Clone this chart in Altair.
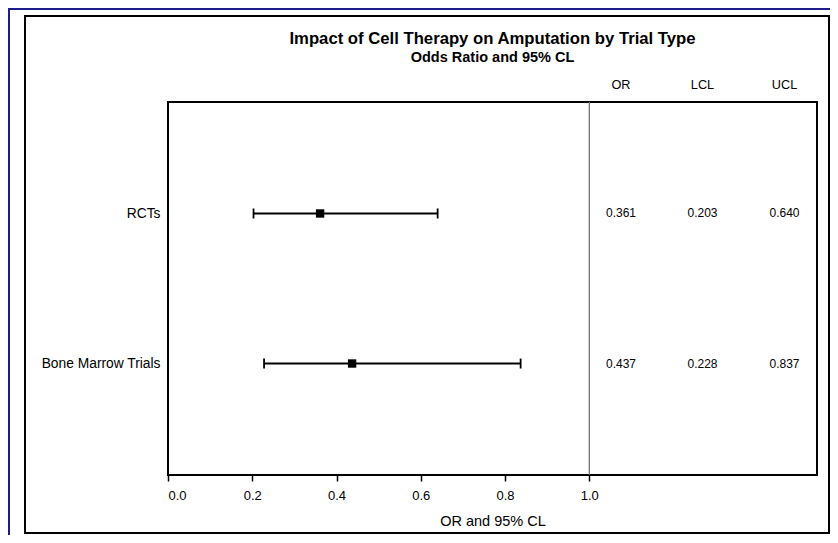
import altair as alt
import pandas as pd

# ---- data ----
labels = ["RCTs", "Bone Marrow Trials"]
odds = [0.361, 0.437]
lcl = [0.203, 0.228]
ucl = [0.640, 0.837]
tick_values = [0.0, 0.2, 0.4, 0.6, 0.8, 1.0]
ref_value = [1.0]
headers = ["OR", "LCL", "UCL"]
title_text = "Impact of Cell Therapy on Amputation by Trial Type"
subtitle_text = "Odds Ratio and 95% CL"
x_title = "OR and 95% CL"

df = pd.DataFrame({"trial": labels, "OR": odds, "LCL": lcl, "UCL": ucl})
ref_df = pd.DataFrame({"ref": ref_value})
one = pd.DataFrame({"k": [0]})

FONT = "Liberation Sans"
W, H = 649, 373
PX_PER_UNIT = 421.3
XMAX = W / PX_PER_UNIT

x_scale = alt.Scale(domain=[0, XMAX], nice=False, zero=False)
x_axis = alt.Axis(
    values=tick_values, format=".1f", title=x_title, grid=False, domain=False,
    ticks=True, tickSize=6, tickWidth=1.5, tickColor="black",
    labelFont=FONT, labelFontSize=13, labelColor="black", labelPadding=8,
    titleFont=FONT, titleFontSize=14.5, titleFontWeight="normal",
    titleColor="black", titlePadding=12,
)


def xe(field):
    return alt.X(field, scale=x_scale, axis=x_axis)


y_enc = alt.Y(
    "trial:N", sort=labels,
    scale=alt.Scale(type="point", padding=0.743, domain=labels),
    axis=alt.Axis(title=None, ticks=False, domain=False, grid=False,
                  labelFont=FONT, labelFontSize=13.8, labelColor="black",
                  labelPadding=8),
)

base = alt.Chart(df)

navy = alt.Chart(one).mark_rect(
    fillOpacity=0, stroke="#1c1c8a", strokeWidth=2
).encode(x=alt.value(-159), x2=alt.value(700), y=alt.value(-93), y2=alt.value(500))

frame = alt.Chart(one).mark_rect(
    fillOpacity=0, stroke="black", strokeWidth=2
).encode(x=alt.value(-143), x2=alt.value(661), y=alt.value(-86), y2=alt.value(431))

ref = alt.Chart(ref_df).mark_rule(color="#666666", strokeWidth=1.2).encode(x=xe("ref:Q"))

bars = base.mark_rule(color="black", strokeWidth=1.8).encode(
    x=xe("LCL:Q"), x2="UCL:Q", y=y_enc)
cap_l = base.mark_tick(color="black", thickness=1.8, size=10, opacity=1).encode(
    x=xe("LCL:Q"), y=y_enc)
cap_u = base.mark_tick(color="black", thickness=1.8, size=10, opacity=1).encode(
    x=xe("UCL:Q"), y=y_enc)
points = base.mark_square(size=70, color="black", filled=True, opacity=1).encode(
    x=xe("OR:Q"), y=y_enc)

col_x = {"OR": 453, "LCL": 534.5, "UCL": 616.5}

table_layers = []
for h in headers:
    table_layers.append(
        base.mark_text(font=FONT, fontSize=12, color="black", align="center",
                       baseline="middle").encode(
            x=alt.value(col_x[h]), y=y_enc, text=alt.Text(f"{h}:Q", format=".3f"))
    )
    table_layers.append(
        alt.Chart(one).mark_text(text=h, font=FONT, fontSize=12.7, color="black",
                                 align="center", baseline="middle").encode(
            x=alt.value(col_x[h]), y=alt.value(-17))
    )

title = alt.Chart(one).mark_text(
    text=title_text, font=FONT, fontSize=16.7, fontWeight="bold", color="black",
    align="center", baseline="middle").encode(x=alt.value(W / 2), y=alt.value(-63))
subtitle = alt.Chart(one).mark_text(
    text=subtitle_text, font=FONT, fontSize=14.5, fontWeight="bold", color="black",
    align="center", baseline="middle").encode(x=alt.value(W / 2), y=alt.value(-44.3))

chart = alt.layer(
    navy, frame, ref, bars, cap_l, cap_u, points, *table_layers, title, subtitle
).properties(
    width=W, height=H,
    autosize=alt.AutoSizeParams(type="none"),
    padding={"left": 160, "top": 94, "right": 13, "bottom": 60},
    background="white",
).configure_view(stroke="black", strokeWidth=2)

chart.save("out.html", embed_options={"renderer": "svg", "actions": False})
